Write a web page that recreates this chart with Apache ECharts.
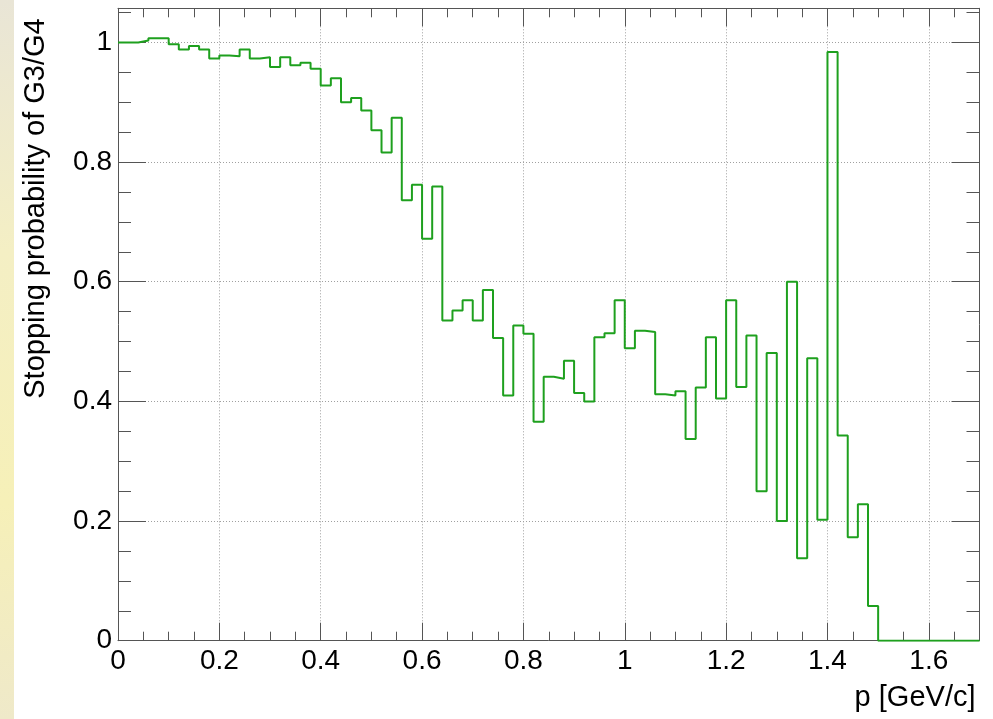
<!DOCTYPE html>
<html>
<head>
<meta charset="utf-8">
<script src="https://cdn.jsdelivr.net/npm/echarts@6/dist/echarts.min.js"></script>
<style>
html,body{margin:0;padding:0;background:#ffffff;}
#chart{width:993px;height:719px;}
</style>
</head>
<body>
<div id="chart"></div>
<script>
// ---- data ----
const xAxisTitle = 'p [GeV/c]';
const yAxisTitle = 'Stopping probability of G3/G4';
const binWidth = 0.02;          // GeV/c per bin
const xRange = [0, 1.7];
const yRange = [0, 1.057];
const xMajorStep = 0.2, xMinorStep = 0.05;
const yMajorStep = 0.2, yMinorStep = 0.05;

// bin contents, bins of 0.02 GeV/c starting at p = 0
const stopProb = [
  1.000, 1.000, 1.003, 1.007, 1.007, 0.997, 0.988, 0.994, 0.988, 0.973,
  0.978, 0.977, 0.988, 0.973, 0.975, 0.959, 0.975, 0.962, 0.966, 0.956,
  0.928, 0.940, 0.900, 0.907, 0.886, 0.853, 0.816, 0.874, 0.736, 0.762,
  0.672, 0.759, 0.535, 0.552, 0.569, 0.535, 0.586, 0.506, 0.410, 0.527,
  0.513, 0.366, 0.441, 0.438, 0.468, 0.414, 0.400, 0.507, 0.514, 0.569,
  0.489, 0.518, 0.516, 0.412, 0.410, 0.417, 0.337, 0.423, 0.507, 0.405,
  0.569, 0.424, 0.510, 0.250, 0.481, 0.200, 0.600, 0.138, 0.472, 0.202,
  0.984, 0.343, 0.173, 0.228, 0.058, 0.000, 0.000, 0.000, 0.000, 0.000,
  0.000, 0.000, 0.000, 0.000, 0.000
];

// ---- build histogram outline points (bin low edges + final upper edge) ----
const histData = stopProb.map((v, i) => [+(i * binWidth).toFixed(4), v]);
histData.push([+(stopProb.length * binWidth).toFixed(4), stopProb[stopProb.length - 1]]);

const axisColor = '#555555';
const gridColor = '#a0a0a0';
const font = '"Liberation Sans", Arial, Helvetica, sans-serif';
const fmt = v => String(Math.round(v * 10) / 10);

function xAx(position, interval, tickLen, extra) {
  return Object.assign({
    type: 'value', position: position, min: xRange[0], max: xRange[1], interval: interval,
    axisLine: { show: false, onZero: false },
    axisTick: { show: true, inside: true, length: tickLen, lineStyle: { color: axisColor, width: 1 } },
    axisLabel: { show: false },
    splitLine: { show: false },
    minorTick: { show: false }
  }, extra || {});
}
function yAx(position, interval, tickLen, extra) {
  return Object.assign({
    type: 'value', position: position, min: yRange[0], max: yRange[1], interval: interval,
    axisLine: { show: false, onZero: false },
    axisTick: { show: true, inside: true, length: tickLen, lineStyle: { color: axisColor, width: 1 } },
    axisLabel: { show: false },
    splitLine: { show: false },
    minorTick: { show: false }
  }, extra || {});
}

const chart = echarts.init(document.getElementById('chart'), null, { renderer: 'canvas' });
chart.setOption({
  animation: false,
  backgroundColor: '#ffffff',
  graphic: [{
    type: 'rect', left: 0, top: 0, z: -10, silent: true,
    shape: { width: 14, height: 719 },
    style: { fill: new echarts.graphic.LinearGradient(0, 0, 0, 1, [
      { offset: 0, color: '#e9e5d6' }, { offset: 0.35, color: '#f4efc4' },
      { offset: 0.7, color: '#f6f0b8' }, { offset: 1, color: '#efe9c9' }]) }
  }],
  grid: { left: 118, right: 13.5, top: 8.3, bottom: 78.3, containLabel: false, outerBoundsMode: 'none' },
  xAxis: [
    xAx('bottom', xMajorStep, 18, {
      axisLine: { show: true, onZero: false, lineStyle: { color: axisColor, width: 1 } },
      axisLabel: { show: true, margin: 7, color: '#000', fontSize: 28, fontFamily: font,
                   formatter: fmt, showMaxLabel: false },
      splitLine: { show: true, lineStyle: { color: gridColor, width: 1, type: [1, 2] } },
      name: xAxisTitle, nameLocation: 'end', nameGap: -4, nameMoveOverlap: false,
      nameTextStyle: { color: '#000', fontSize: 29, fontFamily: font, align: 'right',
                       verticalAlign: 'top', padding: [43, 0, 0, 0] }
    }),
    xAx('bottom', xMinorStep, 9),
    xAx('top', xMajorStep, 18, { axisLine: { show: true, onZero: false, lineStyle: { color: axisColor, width: 1 } } }),
    xAx('top', xMinorStep, 9)
  ],
  yAxis: [
    yAx('left', yMajorStep, 28, {
      axisLine: { show: true, onZero: false, lineStyle: { color: axisColor, width: 1 } },
      axisLabel: { show: true, margin: 6, color: '#000', fontSize: 28, fontFamily: font,
                   formatter: fmt, showMaxLabel: false },
      splitLine: { show: true, lineStyle: { color: gridColor, width: 1, type: [1, 2] } },
      name: yAxisTitle, nameLocation: 'middle', nameRotate: 90, nameGap: 82, nameMoveOverlap: false,
      nameTextStyle: { color: '#000', fontSize: 29, fontFamily: font, align: 'center',
                       verticalAlign: 'middle', padding: [0, 0, 0, 232] }
    }),
    yAx('left', yMinorStep, 13),
    yAx('right', yMajorStep, 28, { axisLine: { show: true, onZero: false, lineStyle: { color: axisColor, width: 1 } } }),
    yAx('right', yMinorStep, 13)
  ],
  series: [{
    type: 'line', step: 'end', data: histData,
    xAxisIndex: 0, yAxisIndex: 0,
    showSymbol: false, symbol: 'none', clip: true, z: 5,
    lineStyle: { color: '#1ea01e', width: 2 }
  }]
});
</script>
</body>
</html>
